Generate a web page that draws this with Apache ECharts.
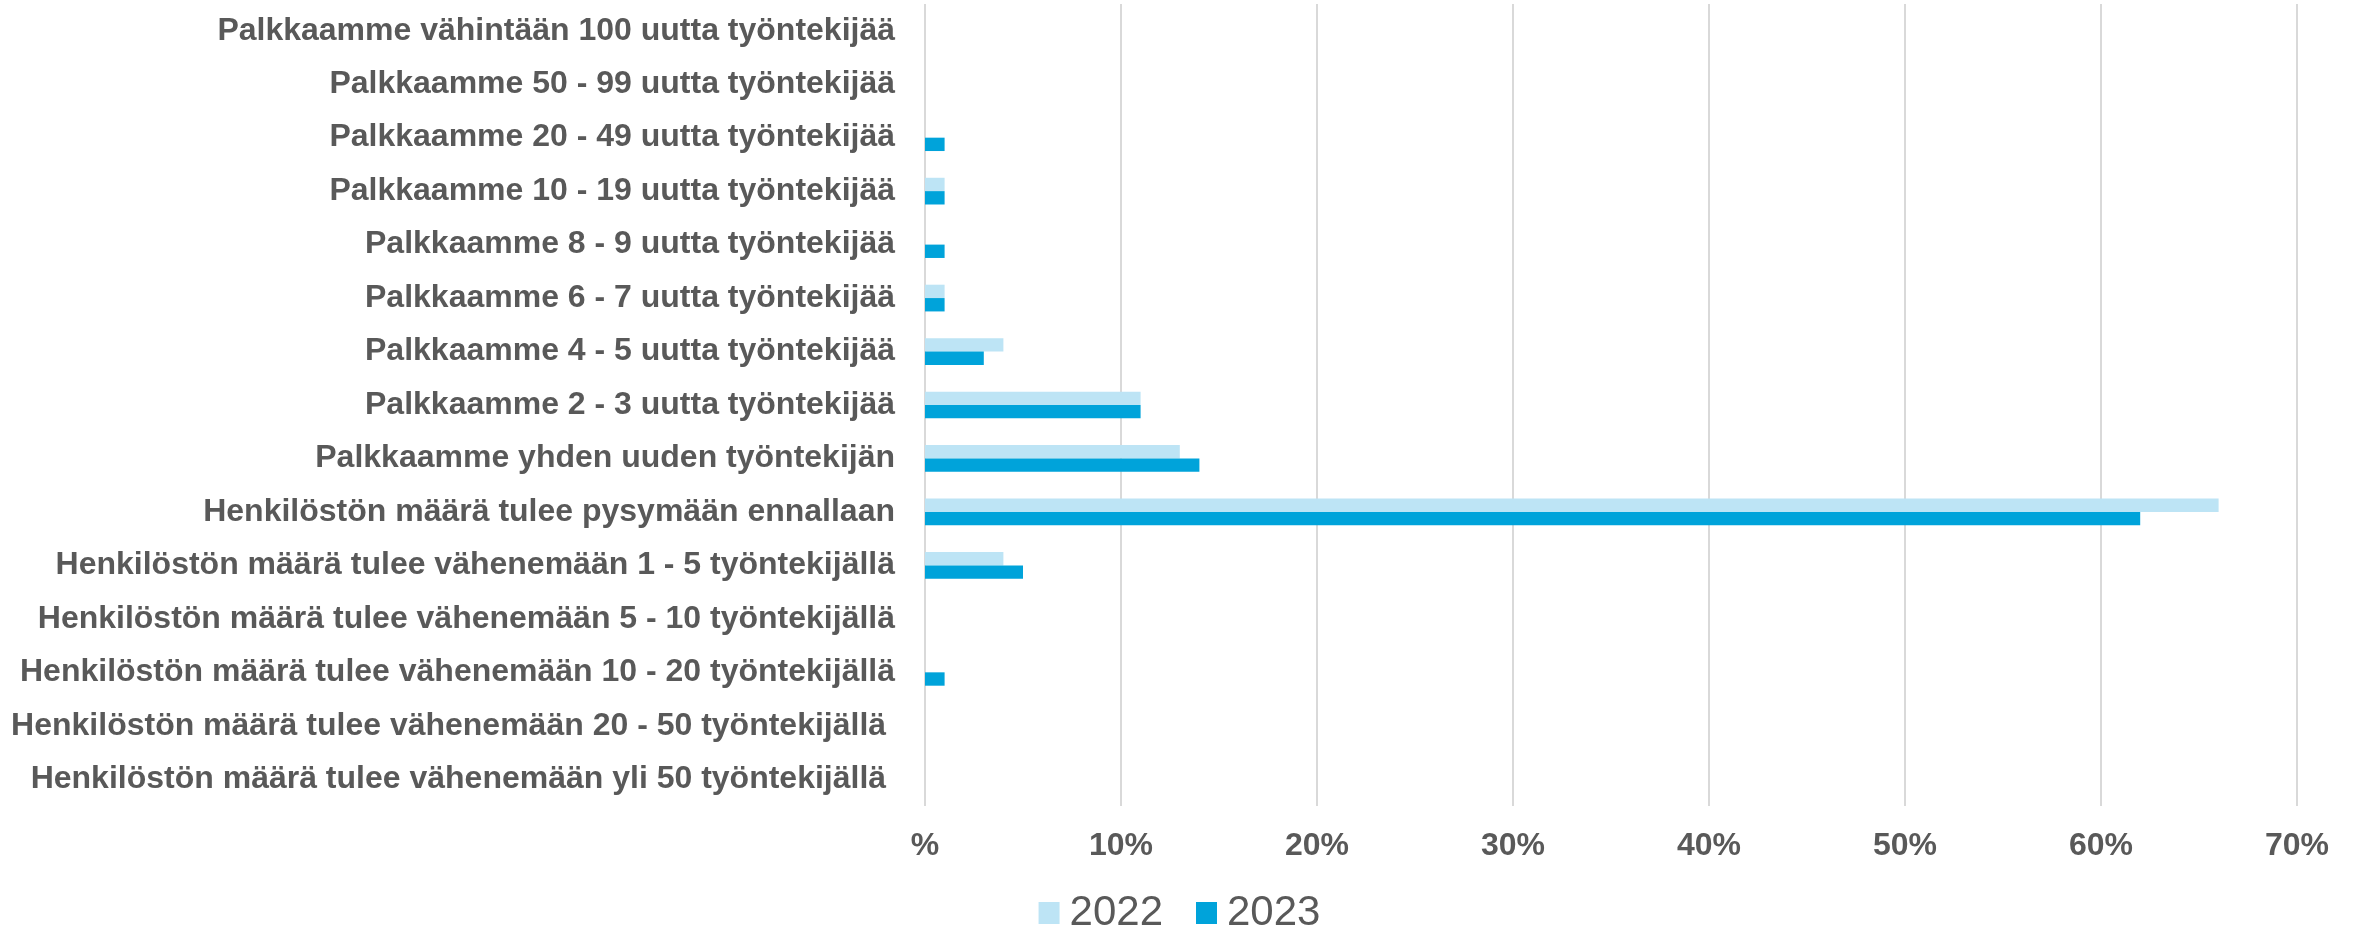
<!DOCTYPE html>
<html>
<head>
<meta charset="utf-8">
<script src="https://cdn.jsdelivr.net/npm/echarts@6/dist/echarts.min.js"></script>
<style>
  html, body { margin: 0; padding: 0; background: #fff; }
  #chart { width: 2359px; height: 926px; }
</style>
</head>
<body>
<div id="chart"></div>
<script>
// categories top to bottom
const categories = [
  'Palkkaamme vähintään 100 uutta työntekijää',
  'Palkkaamme 50 - 99 uutta työntekijää',
  'Palkkaamme 20 - 49 uutta työntekijää',
  'Palkkaamme 10 - 19 uutta työntekijää',
  'Palkkaamme 8 - 9 uutta työntekijää',
  'Palkkaamme 6 - 7 uutta työntekijää',
  'Palkkaamme 4 - 5 uutta työntekijää',
  'Palkkaamme 2 - 3 uutta työntekijää',
  'Palkkaamme yhden uuden työntekijän',
  'Henkilöstön määrä tulee pysymään ennallaan',
  'Henkilöstön määrä tulee vähenemään 1 - 5 työntekijällä',
  'Henkilöstön määrä tulee vähenemään 5 - 10 työntekijällä',
  'Henkilöstön määrä tulee vähenemään 10 - 20 työntekijällä',
  'Henkilöstön määrä tulee vähenemään 20 - 50 työntekijällä ',
  'Henkilöstön määrä tulee vähenemään yli 50 työntekijällä '
];
const values2022 = [0, 0, 0, 1, 0, 1, 4, 11, 13, 66, 4, 0, 0, 0, 0];
const values2023 = [0, 0, 1, 1, 1, 1, 3, 11, 14, 62, 5, 0, 1, 0, 0];
const tickLabels = ['%', '10%', '20%', '30%', '40%', '50%', '60%', '70%'];

const textColor = '#595959';
const chart = echarts.init(document.getElementById('chart'));

chart.setOption({
  animation: false,
  grid: { left: 925, right: 62, top: 4, bottom: 120 },
  legend: {
    top: 887,
    left: 'center',
    itemWidth: 21,
    itemHeight: 22,
    itemGap: 33,
    icon: 'rect',
    textStyle: { color: textColor, fontSize: 42, fontFamily: 'Liberation Sans, Arial, sans-serif', padding: [0, 0, 0, 5] },
    data: ['2022', '2023']
  },
  xAxis: {
    type: 'value',
    min: 0,
    max: 70,
    interval: 10,
    axisLine: { show: false },
    axisTick: { show: false },
    splitLine: { lineStyle: { color: '#d9d9d9', width: 2 } },
    axisLabel: {
      color: textColor,
      fontSize: 32,
      fontWeight: 'bold',
      fontFamily: 'Liberation Sans, Arial, sans-serif',
      margin: 24,
      formatter: (v) => tickLabels[Math.round(v / 10)]
    }
  },
  yAxis: {
    type: 'category',
    inverse: true,
    data: categories,
    axisLine: { show: false },
    axisTick: { show: false },
    axisLabel: {
      color: textColor,
      fontSize: 32,
      fontWeight: 'bold',
      fontFamily: 'Liberation Sans, Arial, sans-serif',
      margin: 30
    }
  },
  series: [
    {
      name: '2022',
      type: 'bar',
      data: values2022,
      barGap: '0%',
      barCategoryGap: '50%',
      itemStyle: { color: '#bde4f5' }
    },
    {
      name: '2023',
      type: 'bar',
      data: values2023,
      barGap: '0%',
      barCategoryGap: '50%',
      itemStyle: { color: '#00a3da' }
    }
  ]
});
</script>
</body>
</html>
